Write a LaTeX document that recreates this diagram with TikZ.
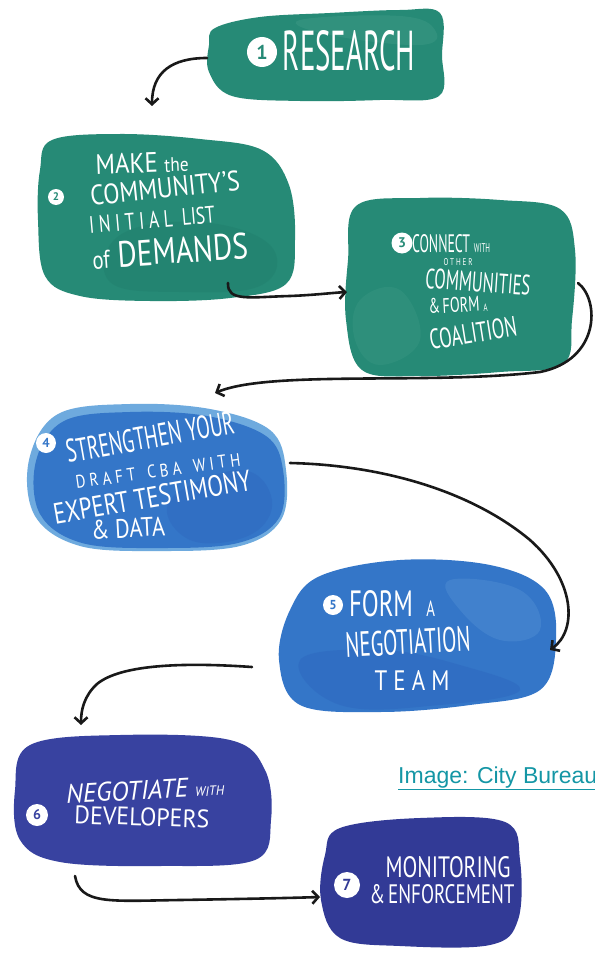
\documentclass[tikz,border=0pt]{standalone}
\usepackage{fontspec}
\setmainfont{PT Sans}
\newfontfamily\linkfont{Liberation Sans}
\usetikzlibrary{arrows.meta}
\definecolor{tealA}{RGB}{38,138,118}
\definecolor{tealB}{RGB}{30,120,104}
\definecolor{tealL}{RGB}{70,160,140}
\definecolor{blueRim}{RGB}{110,170,222}
\definecolor{blueA}{RGB}{52,118,200}
\definecolor{blueB}{RGB}{44,100,188}
\definecolor{blueL}{RGB}{90,150,215}
\definecolor{indA}{RGB}{56,66,160}
\definecolor{indB}{RGB}{50,58,150}
\definecolor{inkc}{RGB}{25,25,25}
\definecolor{linkc}{RGB}{20,150,165}
% #1 angle (counter-clockwise), #2 width, #3 cap height, #4 text
\newcommand{\hw}[4]{\rotatebox{#1}{\resizebox{#2pt}{#3pt}{#4}}}
\tikzset{
  hand/.style={inner sep=0pt, text=white},
  numc/.style={circle, fill=white, inner sep=0pt, font=\bfseries},
  flow/.style={draw=inkc, line width=2.6pt, line cap=round,
    -{Straight Barb[length=6pt,width=13pt]}},
}
\begin{document}
\begin{tikzpicture}[x=1pt,y=-1pt]
\useasboundingbox (0,0) rectangle (594,955);
\fill[white] (0,0) rectangle (594,955);

% ---------- blobs ----------
\fill[tealA] plot[smooth cycle, tension=0.6] coordinates {(215,28) (260,17) (330,13) (400,10) (440,13) (442,55) (439,96) (380,100) (300,101) (232,96) (209,72) (209,45)};
\fill[tealL, opacity=0.35] plot[smooth cycle, tension=0.7] coordinates {(300,20) (400,16) (435,30) (420,45) (330,35)};
\fill[tealA] plot[smooth cycle, tension=0.6] coordinates {(52,140) (120,134) (200,139) (262,150) (289,185) (295,240) (286,284) (230,298) (150,301) (80,296) (45,276) (38,220) (40,170)};
\fill[tealB, opacity=0.3] plot[smooth cycle, tension=0.7] coordinates {(120,235) (200,222) (270,245) (262,285) (180,292) (110,282)};
\fill[tealA] plot[smooth cycle, tension=0.6] coordinates {(356,206) (420,198) (500,200) (560,209) (575,250) (572,320) (563,364) (500,372) (420,376) (362,370) (346,320) (348,260)};
\fill[tealL, opacity=0.25] plot[smooth cycle, tension=0.7] coordinates {(360,300) (400,290) (420,340) (380,365) (355,340)};
\fill[blueRim] plot[smooth cycle, tension=0.6] coordinates {(58,414) (130,404) (210,409) (270,430) (286,470) (281,520) (240,546) (160,551) (80,546) (35,516) (29,460)};
\fill[blueA] plot[smooth cycle, tension=0.6] coordinates {(64,421) (130,412) (207,416) (266,436) (283,470) (279,518) (238,543) (160,548) (82,543) (40,514) (36,461)};
\fill[blueB, opacity=0.35] plot[smooth cycle, tension=0.7] coordinates {(170,500) (240,470) (272,500) (250,535) (190,540)};
\fill[blueA] plot[smooth cycle, tension=0.6] coordinates {(320,576) (400,560) (490,565) (545,590) (556,640) (540,690) (470,705) (380,712) (300,705) (279,660) (290,610)};
\fill[blueL, opacity=0.35] plot[smooth cycle, tension=0.7] coordinates {(450,580) (520,590) (540,630) (500,640) (460,610)};
\fill[blueB, opacity=0.4] plot[smooth cycle, tension=0.7] coordinates {(300,660) (380,650) (460,665) (520,690) (440,705) (340,705)};
\fill[indA] plot[smooth cycle, tension=0.6] coordinates {(30,745) (120,735) (230,740) (265,770) (271,820) (255,860) (160,866) (60,862) (20,840) (15,790)};
\fill[indB] plot[smooth cycle, tension=0.6] coordinates {(340,828) (420,818) (505,822) (520,860) (518,920) (490,945) (400,946) (340,938) (321,900) (325,855)};

% ---------- block 1 ----------
\node[numc, text=tealA, minimum size=30pt, font=\bfseries\fontsize{20}{20}\selectfont] (n1) at (262,52) {1};
\node[hand] (t1) at (349,51) {\hw{0}{132}{40}{RESEARCH}};

% ---------- block 2 ----------
\node[numc, text=tealA, minimum size=16pt, font=\bfseries\fontsize{11}{11}\selectfont] (n2) at (56,197) {2};
\node[hand] (t2a) at (142,163) {\hw{2}{93}{20}{MAKE {\fontsize{7}{7}\selectfont the}}};
\node[hand] (t2b) at (165,188) {\hw{6}{150}{20}{COMMUNITY'S}};
\node[hand] (t2c) at (152,220) {\hw{5}{126}{17}{I N I T I A L\ \ LIST}};
\node[hand] (t2d) at (170,251) {\hw{4}{156}{26}{{\fontsize{7}{7}\selectfont of} DEMANDS}};

% ---------- block 3 ----------
\node[numc, text=tealA, minimum size=21pt, font=\bfseries\fontsize{14}{14}\selectfont] (n3) at (402,243) {3};
\node[hand] (t3a) at (451,244) {\hw{0}{78}{18}{CONNECT {\fontsize{5}{5}\selectfont WITH}}};
\node[hand] (t3b) at (458,262) {\hw{0}{29}{7}{O T H E R}};
\node[hand] (t3c) at (478,282) {\hw{-4}{105}{20}{COMMUNITIES}};
\node[hand] (t3d) at (458,305) {\hw{3}{59}{15}{\&\,FORM {\fontsize{5}{5}\selectfont A}}};
\node[hand] (t3e) at (473,333) {\hw{9}{88}{20}{COALITION}};

% ---------- block 4 ----------
\node[numc, text=blueA, minimum size=20pt, font=\bfseries\fontsize{13}{13}\selectfont] (n4) at (46,443) {4};
\node[hand] (t4a) at (150,437) {\hw{10}{170}{23}{STRENGTHEN YOUR}};
\node[hand] (t4b) at (158,471) {\hw{8}{166}{13}{D R A F T\ \ \ C B A\ \ \ W I T H}};
\node[hand] (t4c) at (152,497) {\hw{10}{200}{21}{EXPERT TESTIMONY}};
\node[hand] (t4d) at (128,528) {\hw{3}{74}{19}{\&\ DATA}};

% ---------- block 5 ----------
\node[numc, text=blueA, minimum size=20pt, font=\bfseries\fontsize{13}{13}\selectfont] (n5) at (333,605) {5};
\node[hand] (t5a) at (392,604) {\hw{0}{86}{26}{FORM\ \ {\fontsize{6}{6}\selectfont A}}};
\node[hand] (t5b) at (408,642) {\hw{3}{125}{25}{NEGOTIATION}};
\node[hand] (t5c) at (412,680) {\hw{0}{75}{20}{T E A M}};

% ---------- block 6 ----------
\node[numc, text=indA, minimum size=22pt, font=\bfseries\fontsize{14}{14}\selectfont] (n6) at (37,815) {6};
\node[hand] (t6a) at (145,790) {\hw{3}{158}{19}{\itshape NEGOTIATE {\fontsize{5}{5}\selectfont WITH}}};
\node[hand] (t6b) at (142,817) {\hw{-2}{135}{18}{DEVELOPERS}};

% ---------- block 7 ----------
\node[numc, text=indB, minimum size=26pt, font=\bfseries\fontsize{16}{16}\selectfont] (n7) at (347,885) {7};
\node[hand] (t7a) at (448,867) {\hw{0}{125}{21}{MONITORING}};
\node[hand] (t7b) at (442,894) {\hw{0}{145}{19}{\&\,ENFORCEMENT}};

% ---------- caption link ----------
\node[anchor=base west, inner sep=0pt, text=linkc, font=\linkfont\fontsize{23}{23}\selectfont] (lnk) at (398,783) {\underline{Image: City Bureau}};

% ---------- connector end points ----------
\coordinate (a1s) at (207,58);  \coordinate (a1e) at (152,106);
\coordinate (a2s) at (228,283); \coordinate (a2e) at (347,292);
\coordinate (a3s) at (578,283); \coordinate (a3e) at (215,393);
\coordinate (a4s) at (290,463); \coordinate (a4e) at (550,650);
\coordinate (a5s) at (252,667); \coordinate (a5e) at (81,725);
\coordinate (a6s) at (75,876);  \coordinate (a6e) at (320,897);

% ---------- connectors ----------
\draw[flow] (a1s) .. controls (172,58) and (152,72) .. (a1e);
\draw[flow] (a2s) .. controls (227,302) and (250,297) .. (290,296) .. controls (315,295) and (330,293) .. (a2e);
\draw[flow] (a3s) .. controls (600,300) and (600,360) .. (540,372) .. controls (430,385) and (270,370) .. (a3e);
\draw[flow] (a4s) .. controls (380,465) and (470,490) .. (530,540) .. controls (575,580) and (578,630) .. (a4e);
\draw[flow] (a5s) .. controls (180,662) and (120,665) .. (97,684) .. controls (84,696) and (81,710) .. (a5e);
\draw[flow] (a6s) .. controls (80,905) and (110,901) .. (180,900) .. controls (240,899) and (290,898) .. (a6e);
\end{tikzpicture}
\end{document}
